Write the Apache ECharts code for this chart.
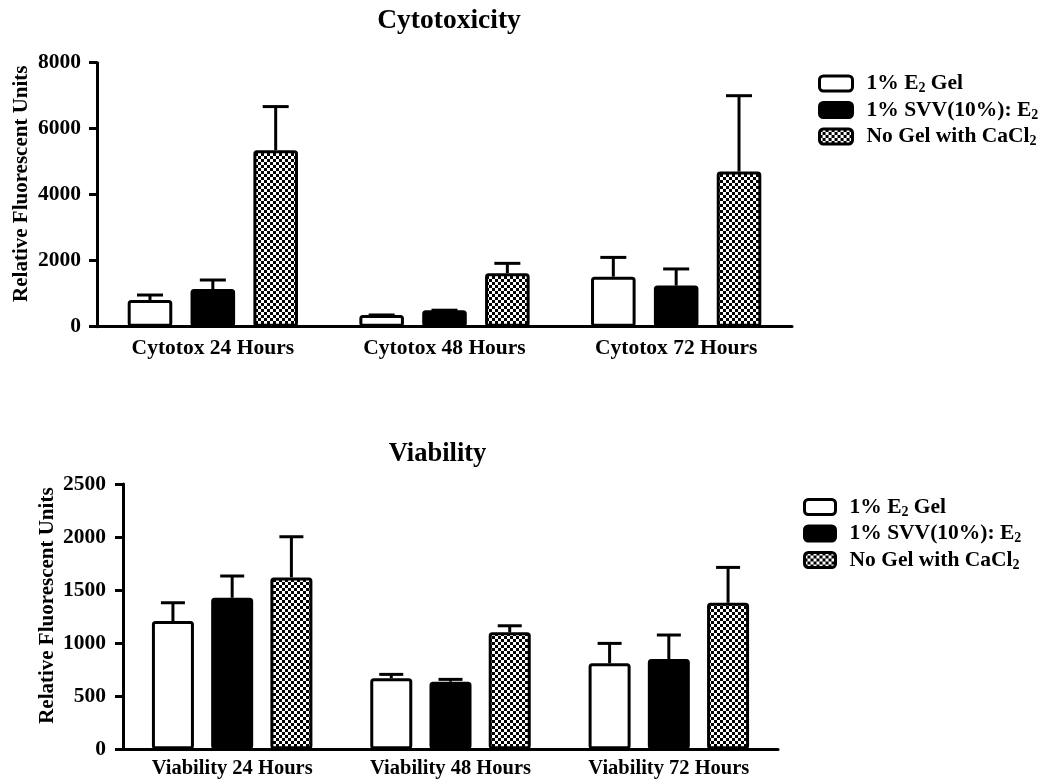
<!DOCTYPE html>
<html>
<head>
<meta charset="utf-8">
<script src="https://cdn.jsdelivr.net/npm/echarts@6/dist/echarts.min.js"></script>
<style>
html,body{margin:0;padding:0;background:#fff;}
#chart{width:1041px;height:780px;}
</style>
</head>
<body>
<div id="chart"></div>
<script>
// ---- data ----
const seriesNames = ['1% E2 Gel', '1% SVV(10%): E2', 'No Gel with CaCl2'];
const cytoCategories = ['Cytotox 24 Hours', 'Cytotox 48 Hours', 'Cytotox 72 Hours'];
const cytoE2Gel = [810, 355, 1515];
const cytoE2GelErr = [960, 355, 2100];
const cytoSVV = [1140, 500, 1245];
const cytoSVVErr = [1415, 500, 1750];
const cytoNoGel = [5350, 1620, 4700];
const cytoNoGelErr = [6670, 1920, 7000];
const cytoTicks = {min: 0, max: 8000, interval: 2000};

const viaCategories = ['Viability 24 Hours', 'Viability 48 Hours', 'Viability 72 Hours'];
const viaE2Gel = [1208, 669, 810];
const viaE2GelErr = [1381, 706, 998];
const viaSVV = [1428, 637, 851];
const viaSVVErr = [1633, 659, 1077];
const viaNoGel = [1620, 1102, 1381];
const viaNoGelErr = [2003, 1164, 1714];
const viaTicks = {min: 0, max: 2500, interval: 500};

// ---- styles ----
const FONT = '"Liberation Serif", "Times New Roman", serif';
const checker = document.createElement('canvas');
checker.width = 6; checker.height = 6;
(function(){
  const c = checker.getContext('2d');
  c.fillStyle = '#fff'; c.fillRect(0,0,6,6);
  c.fillStyle = '#000'; c.fillRect(0,0,3,3); c.fillRect(3,3,3,3);
})();
const fills = ['#ffffff', '#000000', {image: checker, repeat: 'repeat'}];

const CAT_GAP = 0.265, BAR_GAP = 0.41;

function errRender(idx, n, capHalf) {
  return function(params, api) {
    const x = api.value(0), v = api.value(1), e = api.value(2);
    const base = api.coord([x, v]);
    const top = api.coord([x, e]);
    const band = api.size([1, 0])[0];
    const total = band * (1 - CAT_GAP);
    const bw = total / (n + (n - 1) * BAR_GAP);
    const cx = base[0] - total / 2 + idx * bw * (1 + BAR_GAP) + bw / 2;
    const st = {stroke: '#000', lineWidth: 3};
    return {type: 'group', children: [
      {type: 'line', shape: {x1: cx, y1: base[1], x2: cx, y2: top[1]}, style: st},
      {type: 'line', shape: {x1: cx - capHalf, y1: top[1], x2: cx + capHalf, y2: top[1]}, style: st}
    ]};
  };
}

function legendLabel(name) {
  if (name === '1% E2 Gel') return '{t|1% E}{s|2}{t| Gel}';
  if (name === '1% SVV(10%): E2') return '{t|1% SVV(10%): E}{s|2}';
  return '{t|No Gel with CaCl}{s|2}';
}
const legendRich = {
  t: {fontFamily: FONT, fontWeight: 'bold', fontSize: 21.5, color: '#000', lineHeight: 22},
  s: {fontFamily: FONT, fontWeight: 'bold', fontSize: 14, color: '#000', padding: [10, 0, 0, 0]}
};

function yAxis(gi, ticks, margin) {
  return {
    type: 'value', gridIndex: gi, min: ticks.min, max: ticks.max, interval: ticks.interval,
    name: 'Relative Fluorescent Units', nameLocation: 'middle', nameGap: 65, nameRotate: 90,
    nameMoveOverlap: false,
    nameTextStyle: {fontFamily: FONT, fontWeight: 'bold', fontSize: 21, color: '#000', padding: [0, 0, 0, 22]},
    axisLine: {show: true, lineStyle: {color: '#000', width: 3}},
    axisTick: {show: true, length: 8, lineStyle: {color: '#000', width: 3}},
    axisLabel: {fontFamily: FONT, fontWeight: 'bold', fontSize: 21.5, color: '#000', margin: margin,
                formatter: v => String(v)},
    splitLine: {show: false}
  };
}
function xAxis(gi, cats, margin, fs) {
  return {
    type: 'category', gridIndex: gi, data: cats,
    axisLine: {show: true, lineStyle: {color: '#000', width: 3}},
    axisTick: {show: false},
    axisLabel: {fontFamily: FONT, fontWeight: 'bold', fontSize: fs, color: '#000', margin: margin,
                interval: 0, hideOverlap: false}
  };
}

function barSeries(gi, name, data, fi) {
  return {
    type: 'bar', name: name, xAxisIndex: gi, yAxisIndex: gi, data: data,
    barGap: (BAR_GAP * 100) + '%', barCategoryGap: (CAT_GAP * 100) + '%',
    itemStyle: {color: fills[fi], borderColor: '#000', borderWidth: 3, borderRadius: 2},
    emphasis: {disabled: true}, z: 2
  };
}
function errSeries(gi, vals, errs, idx, capHalf) {
  return {
    type: 'custom', xAxisIndex: gi, yAxisIndex: gi,
    data: vals.map((v, i) => [i, v, errs[i]]),
    renderItem: errRender(idx, 3, capHalf), z: 3, silent: true
  };
}

function legend(left, top, iw) {
  return {
    data: seriesNames, orient: 'vertical', left: left, top: top, padding: 0,
    itemWidth: iw, itemHeight: 15, itemGap: 3.5,
    icon: 'roundRect', selectedMode: false, formatter: legendLabel,
    textStyle: {rich: legendRich, padding: [0, 0, 0, 9]},
    itemStyle: {borderWidth: 3, borderColor: '#000'}
  };
}

const chart = echarts.init(document.getElementById('chart'), null, {renderer: 'canvas'});
chart.setOption({
  backgroundColor: '#fff',
  animation: false,
  title: [
    {text: 'Cytotoxicity', left: 449, top: 7, textAlign: 'center', padding: 0,
     textStyle: {fontFamily: FONT, fontWeight: 'bold', fontSize: 27.5, color: '#000'}},
    {text: 'Viability', left: 437.5, top: 441, textAlign: 'center', padding: 0,
     textStyle: {fontFamily: FONT, fontWeight: 'bold', fontSize: 26.5, color: '#000'}}
  ],
  legend: [legend(818, 72.5, 33), legend(803, 496, 31)],
  grid: [
    {left: 97, right: 249, top: 62.7, bottom: 453.3, containLabel: false},
    {left: 123, right: 263, top: 484, bottom: 30.7, containLabel: false}
  ],
  xAxis: [xAxis(0, cytoCategories, 11, 21.5), xAxis(1, viaCategories, 9, 20.5)],
  yAxis: [yAxis(0, cytoTicks, 16), yAxis(1, viaTicks, 17)],
  series: [
    barSeries(0, seriesNames[0], cytoE2Gel, 0),
    barSeries(0, seriesNames[1], cytoSVV, 1),
    barSeries(0, seriesNames[2], cytoNoGel, 2),
    errSeries(0, cytoE2Gel, cytoE2GelErr, 0, 13),
    errSeries(0, cytoSVV, cytoSVVErr, 1, 13),
    errSeries(0, cytoNoGel, cytoNoGelErr, 2, 13),
    barSeries(1, seriesNames[0], viaE2Gel, 0),
    barSeries(1, seriesNames[1], viaSVV, 1),
    barSeries(1, seriesNames[2], viaNoGel, 2),
    errSeries(1, viaE2Gel, viaE2GelErr, 0, 12),
    errSeries(1, viaSVV, viaSVVErr, 1, 12),
    errSeries(1, viaNoGel, viaNoGelErr, 2, 12)
  ]
});
</script>
</body>
</html>
